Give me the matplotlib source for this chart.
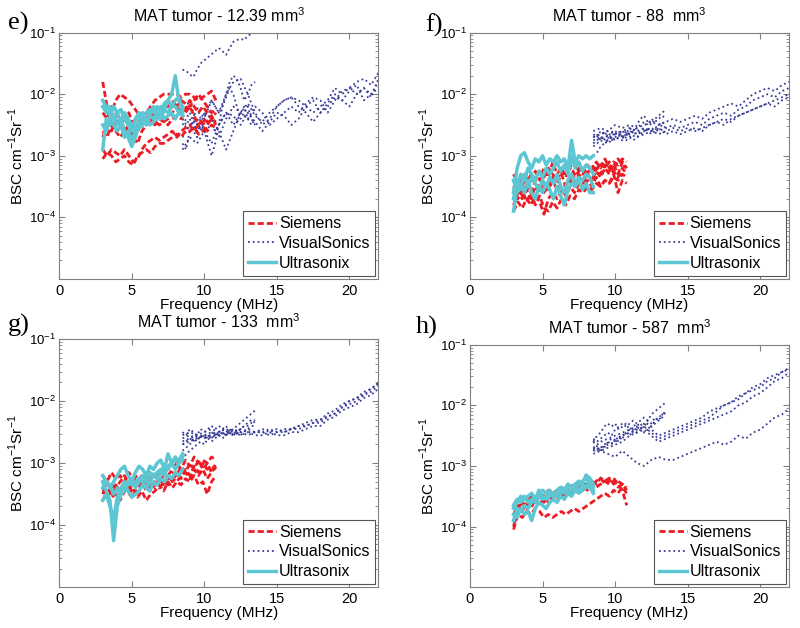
import numpy as np
import matplotlib.pyplot as plt
from matplotlib.lines import Line2D

plt.rcParams['font.family'] = ['Liberation Sans', 'DejaVu Sans']
plt.rcParams['mathtext.fontset'] = 'custom'
plt.rcParams['mathtext.rm'] = 'Liberation Sans'

# frequency grids (MHz) for each transducer
freq_siemens = [3.0, 3.3, 3.6, 3.9, 4.2, 4.5, 4.8, 5.1, 5.4, 5.7, 6.0, 6.3, 6.6, 6.9,
                7.2, 7.5, 7.8, 8.1, 8.4, 8.7, 9.0, 9.3, 9.6, 9.9, 10.2, 10.5, 10.8]
freq_ultrasonix = [3.0, 3.25, 3.5, 3.75, 4.0, 4.25, 4.5, 4.75, 5.0, 5.25, 5.5, 5.75,
                   6.0, 6.25, 6.5, 6.75, 7.0, 7.25, 7.5, 7.75, 8.0, 8.25, 8.5]
freq_vs_low = [8.5, 8.75, 9.0, 9.25, 9.5, 9.75, 10.0, 10.25, 10.5, 10.75, 11.0,
               11.25, 11.5, 11.75, 12.0, 12.25, 12.5, 12.75, 13.0, 13.25, 13.5]
freq_vs_high = [8.5, 9.0, 9.5, 10.0, 10.5, 11.0, 11.5, 12.0, 12.5, 13.0, 13.5, 14.0,
                14.5, 15.0, 15.5, 16.0, 16.5, 17.0, 17.5, 18.0, 18.5, 19.0, 19.5,
                20.0, 20.5, 21.0, 21.5, 22.0]

# log10(BSC), panel e (12.39 mm3)
siemens_e = [
    [-1.8, -2.2, -2.3, -2.1, -2.0, -2.05, -2.1, -2.2, -2.3, -2.35, -2.3, -2.2, -2.1, -2.05,
     -2.0, -2.0, -2.0, -2.0, -2.05, -2.0, -2.0, -2.05, -2.1, -2.05, -2.0, -1.95, -2.1],
    [-2.3, -2.4, -2.2, -2.3, -2.5, -2.4, -2.3, -2.5, -2.6, -2.5, -2.4, -2.3, -2.35, -2.3,
     -2.25, -2.2, -2.1, -2.2, -2.3, -2.25, -2.1, -2.2, -2.3, -2.2, -2.3, -2.4, -2.3],
    [-2.6, -2.7, -2.5, -2.6, -2.7, -2.6, -2.5, -2.7, -2.8, -2.6, -2.5, -2.45, -2.5, -2.4,
     -2.45, -2.5, -2.4, -2.35, -2.4, -2.3, -2.2, -2.35, -2.5, -2.4, -2.45, -2.35, -2.5],
    [-2.9, -3.0, -2.9, -2.95, -3.0, -2.9, -3.0, -3.1, -3.05, -2.9, -2.8, -2.75, -2.7, -2.75,
     -2.7, -2.65, -2.6, -2.7, -2.6, -2.55, -2.5, -2.6, -2.5, -2.45, -2.6, -2.5, -2.55],
    [-3.05, -2.95, -3.0, -3.1, -3.05, -3.0, -3.1, -3.15, -3.0, -2.95, -2.9, -2.95, -2.85, -2.8,
     -2.8, -2.75, -2.7, -2.65, -2.7, -2.6, -2.6, -2.55, -2.65, -2.6, -2.5, -2.4, -2.45],
    [-2.7, -2.5, -2.6, -2.45, -2.4, -2.55, -2.6, -2.5, -2.45, -2.4, -2.3, -2.4, -2.45, -2.5,
     -2.45, -2.4, -2.3, -2.2, -2.1, -2.15, -2.2, -2.1, -2.0, -2.1, -2.2, -2.3, -2.25],
]
ultrasonix_e = [
    [-2.2, -2.3, -2.2, -2.4, -2.3, -2.25, -2.4, -2.5, -2.6, -2.4, -2.3, -2.35, -2.3, -2.25,
     -2.3, -2.2, -2.3, -2.15, -2.1, -2.0, -1.7, -2.1, -2.2],
    [-2.9, -2.4, -2.5, -2.35, -2.5, -2.4, -2.6, -2.7, -2.85, -2.7, -2.5, -2.4, -2.5, -2.35,
     -2.4, -2.3, -2.4, -2.25, -2.3, -2.2, -2.1, -2.05, -2.3],
    [-2.1, -2.2, -2.35, -2.2, -2.3, -2.45, -2.3, -2.4, -2.5, -2.6, -2.4, -2.3, -2.45, -2.3,
     -2.2, -2.35, -2.2, -2.25, -2.1, -2.2, -2.2, -2.3, -2.25],
    [-2.5, -2.6, -2.4, -2.5, -2.6, -2.5, -2.7, -2.6, -2.75, -2.6, -2.55, -2.5, -2.4, -2.5,
     -2.45, -2.4, -2.3, -2.4, -2.35, -2.3, -2.4, -2.3, -2.35],
]
vs_low_e = [
    [-1.6, -1.62, -1.68, -1.72, -1.6, -1.5, -1.45, -1.4, -1.35, -1.3, -1.25, -1.3, -1.36,
     -1.25, -1.15, -1.12, -1.1, -1.12, -1.05, -1.02, -1.0],
    [-2.8, -2.9, -2.6, -2.4, -2.2, -2.4, -2.6, -2.8, -3.0, -2.8, -2.5, -2.2, -2.0, -1.8,
     -1.7, -1.75, -1.9, -2.1, -2.0, -1.85, -1.8],
    [-2.3, -2.2, -2.1, -2.3, -2.5, -2.6, -2.4, -2.2, -2.1, -2.2, -2.3, -2.2, -2.05, -1.9,
     -2.0, -2.2, -2.4, -2.3, -2.2, -2.4, -2.5],
    [-2.6, -2.5, -2.4, -2.6, -2.7, -2.5, -2.3, -2.2, -2.4, -2.6, -2.5, -2.4, -2.3, -2.4,
     -2.5, -2.4, -2.3, -2.2, -2.4, -2.5, -2.4],
]
vs_high_e = [
    [-2.5, -2.3, -2.6, -2.4, -2.1, -2.3, -2.0, -1.8, -1.75, -2.0, -2.3, -2.5, -2.4, -2.2,
     -2.1, -2.05, -2.1, -2.2, -2.3, -2.2, -2.1, -1.9, -2.0, -1.9, -1.8, -1.75, -1.85, -1.65],
    [-2.9, -2.7, -2.8, -2.6, -2.5, -2.7, -2.4, -2.2, -2.3, -2.4, -2.2, -2.3, -2.5, -2.4,
     -2.3, -2.2, -2.3, -2.15, -2.05, -2.1, -2.3, -2.1, -1.95, -1.9, -2.0, -1.9, -2.0, -1.8],
    [-2.7, -2.5, -2.4, -2.6, -2.8, -2.5, -2.3, -2.35, -2.5, -2.3, -2.45, -2.6, -2.45, -2.3,
     -2.35, -2.5, -2.4, -2.2, -2.1, -2.3, -2.2, -2.05, -2.1, -2.2, -2.0, -1.9, -2.05, -1.75],
    [-2.4, -2.6, -2.5, -2.3, -2.4, -2.6, -2.9, -2.6, -2.3, -2.15, -2.35, -2.45, -2.3, -2.2,
     -2.1, -2.05, -2.2, -2.3, -2.45, -2.3, -2.15, -2.0, -2.1, -1.95, -1.85, -2.1, -2.0, -1.9],
]

# panel f (88 mm3)
siemens_f = [
    [-3.6, -3.4, -3.5, -3.3, -3.45, -3.25, -3.4, -3.2, -3.35, -3.1, -3.3, -3.2, -3.35, -3.15,
     -3.3, -3.2, -3.3, -3.15, -3.25, -3.1, -3.2, -3.05, -3.2, -3.1, -3.15, -3.05, -3.1],
    [-3.8, -3.6, -3.7, -3.55, -3.7, -3.5, -3.6, -3.45, -3.55, -3.4, -3.55, -3.45, -3.5, -3.35,
     -3.45, -3.3, -3.4, -3.3, -3.4, -3.25, -3.35, -3.2, -3.3, -3.25, -3.35, -3.2, -3.3],
    [-3.9, -3.75, -3.85, -3.7, -3.8, -3.65, -3.75, -3.95, -3.7, -3.6, -3.7, -3.55, -3.65, -3.5,
     -3.6, -3.45, -3.55, -3.4, -3.5, -3.35, -3.5, -3.4, -3.45, -3.3, -3.6, -3.4, -3.45],
    [-3.7, -3.5, -3.65, -3.45, -3.6, -3.4, -3.55, -3.6, -3.5, -3.35, -3.45, -3.3, -3.5, -3.4,
     -3.5, -3.35, -3.45, -3.3, -3.4, -3.2, -3.3, -3.15, -3.25, -3.15, -3.3, -3.1, -3.2],
    [-3.5, -3.7, -3.55, -3.75, -3.6, -3.8, -3.65, -3.85, -3.9, -3.75, -3.85, -3.7, -3.8, -3.65,
     -3.7, -3.55, -3.6, -3.5, -3.55, -3.45, -3.5, -3.4, -3.45, -3.35, -3.4, -3.3, -3.35],
    [-3.3, -3.45, -3.35, -3.5, -3.3, -3.4, -3.25, -3.35, -3.2, -3.3, -3.4, -3.25, -3.3, -3.2,
     -3.35, -3.25, -3.2, -3.3, -3.15, -3.25, -3.1, -3.2, -3.1, -3.25, -3.05, -3.15, -3.2],
]
ultrasonix_f = [
    [-3.6, -3.2, -3.0, -2.95, -3.1, -3.2, -3.05, -3.1, -3.0, -3.15, -3.05, -3.1, -3.0, -3.1,
     -3.05, -3.2, -2.75, -3.1, -3.0, -3.05, -3.0, -3.05, -3.0],
    [-3.9, -3.5, -3.3, -3.4, -3.2, -3.3, -3.4, -3.25, -3.35, -3.2, -3.3, -3.2, -3.1, -3.25,
     -3.15, -3.3, -3.0, -3.2, -3.1, -3.25, -3.15, -3.2, -3.3],
    [-3.7, -3.4, -3.55, -3.3, -3.5, -3.35, -3.45, -3.55, -3.4, -3.5, -3.35, -3.45, -3.3, -3.5,
     -3.6, -3.4, -3.3, -3.45, -3.35, -3.4, -3.3, -3.35, -3.5],
    [-3.4, -3.6, -3.45, -3.6, -3.4, -3.6, -3.7, -3.5, -3.6, -3.45, -3.55, -3.7, -3.5, -3.65,
     -3.8, -3.55, -3.45, -3.5, -3.4, -3.55, -3.45, -3.6, -3.6],
]
vs_low_f = [
    [-2.65, -2.7, -2.6, -2.65, -2.7, -2.6, -2.65, -2.6, -2.7, -2.65, -2.55, -2.6, -2.5, -2.4,
     -2.35, -2.45, -2.5, -2.4, -2.35, -2.3, -2.25],
    [-2.8, -2.75, -2.7, -2.75, -2.65, -2.7, -2.6, -2.65, -2.7, -2.6, -2.65, -2.6, -2.55, -2.5,
     -2.45, -2.5, -2.4, -2.45, -2.4, -2.35, -2.4],
    [-3.0, -2.95, -2.85, -2.8, -2.75, -2.7, -2.75, -2.7, -2.6, -2.65, -2.7, -2.75, -2.7, -2.65,
     -2.6, -2.55, -2.6, -2.55, -2.5, -2.45, -2.5],
    [-2.7, -2.65, -2.75, -2.6, -2.7, -2.75, -2.7, -2.65, -2.7, -2.75, -2.7, -2.6, -2.65, -2.6,
     -2.55, -2.6, -2.65, -2.6, -2.55, -2.5, -2.55],
]
vs_high_f = [
    [-2.6, -2.55, -2.6, -2.5, -2.55, -2.5, -2.55, -2.5, -2.45, -2.5, -2.45, -2.4, -2.45, -2.4,
     -2.35, -2.4, -2.3, -2.25, -2.2, -2.15, -2.2, -2.1, -2.0, -1.95, -1.9, -1.95, -1.85, -1.8],
    [-2.75, -2.7, -2.75, -2.65, -2.7, -2.6, -2.65, -2.6, -2.55, -2.6, -2.55, -2.5, -2.55, -2.5,
     -2.45, -2.5, -2.4, -2.35, -2.3, -2.35, -2.25, -2.2, -2.1, -2.05, -2.0, -2.05, -1.95, -1.9],
    [-2.85, -2.75, -2.8, -2.7, -2.75, -2.65, -2.7, -2.65, -2.6, -2.65, -2.6, -2.55, -2.6, -2.55,
     -2.6, -2.55, -2.5, -2.45, -2.4, -2.45, -2.35, -2.3, -2.25, -2.2, -2.15, -2.1, -2.05, -2.0],
    [-2.7, -2.65, -2.6, -2.65, -2.6, -2.55, -2.6, -2.55, -2.6, -2.55, -2.65, -2.6, -2.65, -2.6,
     -2.55, -2.6, -2.5, -2.45, -2.5, -2.4, -2.35, -2.3, -2.25, -2.2, -2.15, -2.2, -2.1, -2.05],
]

# panel g (133 mm3)
siemens_g = [
    [-3.2, -3.3, -3.15, -3.25, -3.2, -3.3, -3.15, -3.25, -3.2, -3.3, -3.2, -3.25, -3.15, -3.2,
     -3.1, -3.2, -3.1, -3.0, -3.1, -2.95, -3.05, -2.9, -3.0, -2.95, -3.0, -2.9, -2.95],
    [-3.5, -3.3, -3.45, -3.35, -3.5, -3.4, -3.35, -3.5, -3.4, -3.3, -3.45, -3.35, -3.3, -3.4,
     -3.3, -3.35, -3.25, -3.3, -3.2, -3.15, -3.25, -3.1, -3.2, -3.1, -3.25, -3.15, -3.05],
    [-3.6, -3.45, -3.55, -3.5, -3.6, -3.45, -3.5, -3.4, -3.55, -3.45, -3.6, -3.5, -3.45, -3.35,
     -3.45, -3.3, -3.4, -3.3, -3.35, -3.25, -3.3, -3.2, -3.35, -3.3, -3.5, -3.3, -3.2],
    [-3.4, -3.55, -3.4, -3.35, -3.45, -3.3, -3.45, -3.3, -3.4, -3.35, -3.4, -3.3, -3.4, -3.25,
     -3.35, -3.2, -3.3, -3.15, -3.25, -3.1, -3.2, -3.05, -3.15, -3.0, -3.1, -3.05, -3.1],
    [-3.3, -3.4, -3.5, -3.4, -3.3, -3.2, -3.35, -3.25, -3.3, -3.2, -3.35, -3.25, -3.2, -3.3,
     -3.2, -3.25, -3.15, -3.2, -3.05, -3.15, -3.0, -3.1, -2.95, -3.1, -3.0, -3.15, -3.0],
]
ultrasonix_g = [
    [-3.3, -3.45, -3.6, -4.25, -3.7, -3.5, -3.45, -3.3, -3.35, -3.3, -3.25, -3.3, -3.4, -3.3,
     -3.2, -3.15, -3.1, -3.2, -3.05, -3.0, -3.1, -3.0, -2.95],
    [-3.2, -3.3, -3.4, -3.3, -3.2, -3.1, -3.05, -3.2, -3.3, -3.15, -3.05, -3.1, -3.2, -3.05,
     -3.1, -3.0, -2.95, -3.1, -2.85, -3.0, -2.9, -3.0, -2.9],
    [-3.6, -3.5, -3.7, -3.9, -3.55, -3.4, -3.3, -3.35, -3.25, -3.4, -3.3, -3.2, -3.3, -3.15,
     -3.2, -3.25, -3.15, -3.05, -3.1, -3.0, -2.95, -2.95, -2.85],
    [-3.4, -3.3, -3.35, -3.5, -3.4, -3.5, -3.35, -3.45, -3.55, -3.5, -3.45, -3.35, -3.4, -3.45,
     -3.3, -3.35, -3.25, -3.3, -3.2, -3.25, -3.15, -3.2, -3.1],
]
vs_low_g = [
    [-2.5, -2.55, -2.45, -2.5, -2.55, -2.45, -2.5, -2.45, -2.4, -2.45, -2.4, -2.45, -2.4, -2.5,
     -2.45, -2.4, -2.35, -2.3, -2.25, -2.2, -2.15],
    [-2.7, -2.65, -2.6, -2.65, -2.55, -2.6, -2.55, -2.6, -2.5, -2.55, -2.5, -2.45, -2.5, -2.45,
     -2.55, -2.5, -2.45, -2.4, -2.35, -2.3, -2.35],
    [-2.95, -2.85, -2.8, -2.75, -2.7, -2.65, -2.7, -2.6, -2.65, -2.6, -2.55, -2.6, -2.55, -2.5,
     -2.55, -2.5, -2.55, -2.5, -2.45, -2.4, -2.4],
    [-2.8, -2.75, -2.7, -2.6, -2.65, -2.55, -2.6, -2.55, -2.6, -2.5, -2.55, -2.5, -2.55, -2.5,
     -2.45, -2.5, -2.45, -2.4, -2.4, -2.35, -2.3],
]
vs_high_g = [
    [-2.55, -2.5, -2.55, -2.5, -2.45, -2.5, -2.45, -2.5, -2.45, -2.5, -2.5, -2.45, -2.5, -2.45,
     -2.5, -2.45, -2.4, -2.35, -2.3, -2.3, -2.2, -2.15, -2.05, -2.0, -1.95, -1.85, -1.8, -1.72],
    [-2.65, -2.6, -2.55, -2.6, -2.55, -2.55, -2.5, -2.55, -2.5, -2.55, -2.5, -2.5, -2.55, -2.5,
     -2.5, -2.45, -2.45, -2.4, -2.35, -2.35, -2.25, -2.2, -2.1, -2.05, -2.0, -1.9, -1.85, -1.75],
    [-2.7, -2.65, -2.6, -2.55, -2.6, -2.5, -2.55, -2.5, -2.55, -2.5, -2.55, -2.55, -2.5, -2.55,
     -2.55, -2.5, -2.5, -2.45, -2.4, -2.4, -2.3, -2.25, -2.15, -2.1, -2.05, -1.95, -1.9, -1.8],
    [-2.6, -2.55, -2.6, -2.55, -2.5, -2.55, -2.5, -2.45, -2.5, -2.45, -2.5, -2.5, -2.45, -2.5,
     -2.45, -2.45, -2.4, -2.4, -2.35, -2.3, -2.25, -2.2, -2.1, -2.0, -1.95, -1.9, -1.8, -1.7],
]

# panel h (587 mm3)
siemens_h = [
    [-4.0, -3.7, -3.6, -3.65, -3.5, -3.55, -3.45, -3.5, -3.4, -3.45, -3.4, -3.35, -3.4, -3.35,
     -3.3, -3.35, -3.3, -3.3, -3.25, -3.3, -3.2, -3.25, -3.2, -3.3, -3.25, -3.3, -3.35],
    [-3.9, -3.75, -3.6, -3.7, -3.55, -3.6, -3.5, -3.6, -3.5, -3.55, -3.45, -3.5, -3.4, -3.45,
     -3.4, -3.35, -3.4, -3.3, -3.35, -3.25, -3.2, -3.3, -3.25, -3.2, -3.3, -3.4, -3.65],
    [-4.05, -3.8, -3.85, -3.75, -3.8, -3.7, -3.75, -3.85, -3.8, -3.85, -3.8, -3.75, -3.8, -3.75,
     -3.7, -3.75, -3.7, -3.65, -3.6, -3.55, -3.5, -3.45, -3.5, -3.4, -3.45, -3.35, -3.45],
    [-3.8, -3.65, -3.75, -3.6, -3.7, -3.55, -3.65, -3.5, -3.6, -3.5, -3.55, -3.45, -3.5, -3.4,
     -3.45, -3.4, -3.35, -3.4, -3.3, -3.35, -3.3, -3.25, -3.3, -3.25, -3.35, -3.3, -3.4],
]
ultrasonix_h = [
    [-3.7, -3.6, -3.5, -3.55, -3.5, -3.45, -3.55, -3.45, -3.4, -3.45, -3.4, -3.5, -3.4, -3.35,
     -3.4, -3.3, -3.35, -3.3, -3.25, -3.3, -3.15, -3.2, -3.3],
    [-3.9, -3.7, -3.75, -3.65, -3.7, -3.6, -3.55, -3.4, -3.5, -3.55, -3.5, -3.45, -3.5, -3.45,
     -3.4, -3.45, -3.4, -3.35, -3.4, -3.3, -3.35, -3.25, -3.4],
    [-3.8, -3.85, -3.7, -3.8, -3.75, -3.9, -3.7, -3.6, -3.65, -3.7, -3.6, -3.55, -3.6, -3.5,
     -3.55, -3.45, -3.5, -3.4, -3.45, -3.4, -3.35, -3.35, -3.45],
    [-3.65, -3.55, -3.6, -3.5, -3.6, -3.55, -3.6, -3.5, -3.55, -3.5, -3.45, -3.5, -3.45, -3.4,
     -3.45, -3.35, -3.4, -3.35, -3.3, -3.25, -3.2, -3.3, -3.35],
]
vs_low_h = [
    [-2.55, -2.6, -2.55, -2.5, -2.45, -2.5, -2.4, -2.35, -2.3, -2.35, -2.3, -2.25, -2.3, -2.25,
     -2.2, -2.25, -2.15, -2.1, -2.05, -2.0, -1.95],
    [-2.7, -2.75, -2.7, -2.65, -2.6, -2.65, -2.55, -2.6, -2.5, -2.45, -2.5, -2.4, -2.45, -2.4,
     -2.35, -2.3, -2.35, -2.25, -2.2, -2.15, -2.1],
    [-2.75, -2.7, -2.75, -2.7, -2.6, -2.55, -2.6, -2.5, -2.55, -2.45, -2.4, -2.45, -2.35, -2.4,
     -2.3, -2.25, -2.3, -2.2, -2.25, -2.15, -2.15],
    [-2.6, -2.5, -2.45, -2.35, -2.3, -2.35, -2.3, -2.4, -2.35, -2.3, -2.4, -2.35, -2.3, -2.35,
     -2.45, -2.4, -2.35, -2.3, -2.25, -2.2, -2.1],
]
vs_high_h = [
    [-2.6, -2.75, -2.8, -2.85, -2.75, -2.85, -2.95, -3.0, -2.9, -2.85, -2.9, -2.9, -2.85, -2.8,
     -2.75, -2.7, -2.65, -2.6, -2.65, -2.6, -2.5, -2.55, -2.45, -2.4, -2.3, -2.2, -2.15, -2.05],
    [-2.7, -2.6, -2.55, -2.5, -2.45, -2.4, -2.35, -2.3, -2.4, -2.5, -2.45, -2.4, -2.35, -2.3,
     -2.25, -2.2, -2.1, -2.05, -2.0, -1.95, -1.9, -1.8, -1.75, -1.7, -1.6, -1.55, -1.45, -1.38],
    [-2.75, -2.7, -2.65, -2.6, -2.5, -2.45, -2.4, -2.35, -2.45, -2.55, -2.5, -2.45, -2.4, -2.35,
     -2.3, -2.25, -2.2, -2.1, -2.0, -1.95, -1.85, -1.8, -1.7, -1.65, -1.55, -1.5, -1.45, -1.4],
    [-2.8, -2.75, -2.7, -2.65, -2.6, -2.5, -2.45, -2.4, -2.5, -2.6, -2.55, -2.5, -2.45, -2.4,
     -2.35, -2.3, -2.25, -2.2, -2.15, -2.1, -2.0, -1.95, -1.85, -1.8, -1.7, -1.6, -1.55, -1.45],
]

panel_letters = ['e)', 'f)', 'g)', 'h)']
titles = ['MAT tumor - 12.39 mm$^3$', 'MAT tumor - 88  mm$^3$',
          'MAT tumor - 133  mm$^3$', 'MAT tumor - 587  mm$^3$']
legend_labels = ['Siemens', 'VisualSonics', 'Ultrasonix']

red = '#ED1C24'
navy = '#3A3D96'
cyan = '#5CC6D3'
frame = '#808080'

panels = [
    (siemens_e, ultrasonix_e, vs_low_e, vs_high_e),
    (siemens_f, ultrasonix_f, vs_low_f, vs_high_f),
    (siemens_g, ultrasonix_g, vs_low_g, vs_high_g),
    (siemens_h, ultrasonix_h, vs_low_h, vs_high_h),
]
# axes rectangles in figure fractions
rects = [
    [0.074, 0.556, 0.399, 0.392],
    [0.5875, 0.556, 0.399, 0.392],
    [0.074, 0.065, 0.399, 0.395],
    [0.5875, 0.065, 0.399, 0.386],
]
letter_pos = [(0.010, 0.963), (0.532, 0.960), (0.010, 0.482), (0.520, 0.478)]

fig = plt.figure(figsize=(8, 6.28), dpi=100)

for i in range(4):
    sie, ult, vlo, vhi = panels[i]
    ax = fig.add_axes(rects[i])
    for c in vlo:
        ax.plot(freq_vs_low, 10 ** np.array(c), ':', color=navy, lw=1.3)
    for c in vhi:
        ax.plot(freq_vs_high, 10 ** np.array(c), ':', color=navy, lw=1.3)
    for c in sie:
        ax.plot(freq_siemens, 10 ** np.array(c), '--', color=red, lw=2.0, dashes=(2.2, 1.1))
    for c in ult:
        ax.plot(freq_ultrasonix, 10 ** np.array(c), '-', color=cyan, lw=2.5)

    ax.set_yscale('log')
    ax.set_xlim(0, 22)
    ax.set_ylim(1e-5, 1e-1)
    ax.set_xticks([0, 5, 10, 15, 20])
    ax.set_yticks([1e-4, 1e-3, 1e-2, 1e-1])
    ax.tick_params(which='both', direction='in', top=True, right=True, color=frame)
    ax.tick_params(axis='x', labelsize=10.5)
    ax.tick_params(axis='y', labelsize=9.5, pad=2)
    ax.tick_params(which='major', length=4)
    ax.tick_params(which='minor', length=2)
    for s in ax.spines.values():
        s.set_color(frame)
    ax.set_xlabel('Frequency (MHz)', fontsize=11, labelpad=0)
    ax.set_ylabel('BSC cm$^{-1}$Sr$^{-1}$', fontsize=11, labelpad=2)
    ax.set_title(titles[i], fontsize=11.5, pad=8)

    handles = [Line2D([], [], color=red, ls='--', lw=2.0, dashes=(2.2, 1.1)),
               Line2D([], [], color=navy, ls=':', lw=1.3),
               Line2D([], [], color=cyan, ls='-', lw=2.5)]
    leg = ax.legend(handles, legend_labels, loc='lower right', fontsize=11.5,
                    handlelength=1.75, handletextpad=0.2, labelspacing=0.3,
                    borderpad=0.3, borderaxespad=0.2, fancybox=False,
                    framealpha=1)
    leg.get_frame().set_edgecolor('#555555')
    leg.get_frame().set_linewidth(0.8)

    fig.text(letter_pos[i][0], letter_pos[i][1], panel_letters[i], fontsize=19,
             family='Liberation Serif', va='center')

plt.savefig('out.png', dpi=100)
